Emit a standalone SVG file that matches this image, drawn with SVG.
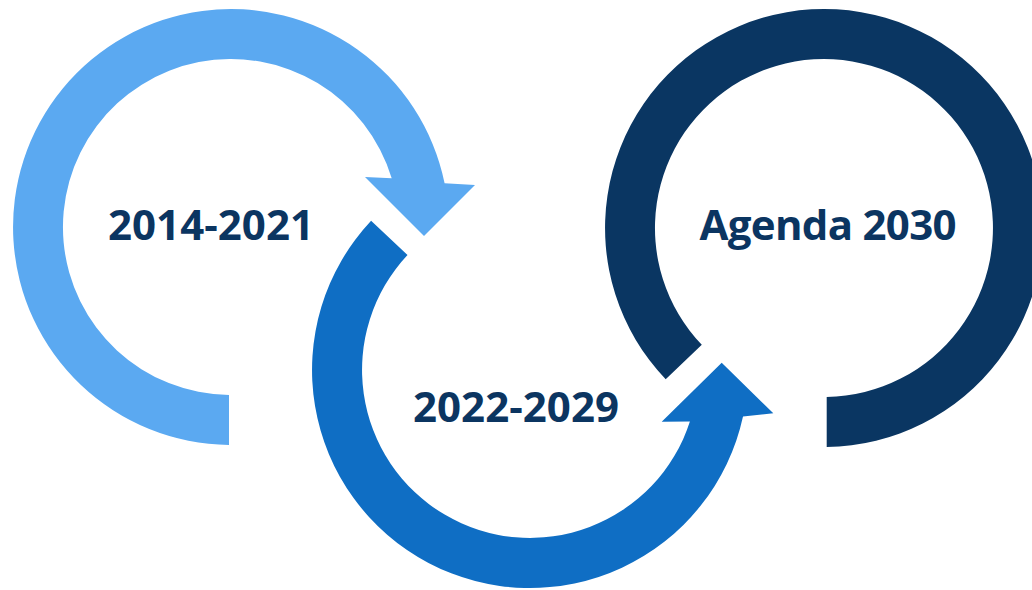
<svg xmlns="http://www.w3.org/2000/svg" width="1032" height="590" viewBox="0 0 1032 590">
  <style>
    .lbl { font-family: "Open Sans", "Liberation Sans", sans-serif; font-weight: 700; font-size: 42px; fill: #0B3561; text-anchor: middle; }
  </style>
  <rect width="1032" height="590" fill="#FFFFFF"/>
  <g id="connectors">
    <path id="arrow-1" fill="#5BA9F1" d="M229,445 A218,218 0 1 1 444.6,183.2 L475,185 L424,236 L365,177 L391.7,178.2 A168,168 0 1 0 229,395 Z"/>
    <path id="arrow-2" fill="#0F6EC4" d="M371.1,220.8 A218,218 0 1 0 743.0,416.6 L773.3,413.3 L721.7,362.7 L661.7,421.7 L689.9,421.6 A168,168 0 1 1 407.5,255.0 Z"/>
    <path id="arrow-3" fill="#0A3662" d="M826.7,447 A219,219 0 1 0 665.7,379.3 L701.8,344.8 A169,169 0 1 1 826.7,397 Z"/>
  </g>
  <g id="node-2014-2021">
    <text class="lbl" x="211" y="240" textLength="206">2014-2021</text>
  </g>
  <g id="node-2022-2029">
    <text class="lbl" x="516" y="421.5" textLength="206">2022-2029</text>
  </g>
  <g id="node-agenda-2030">
    <text class="lbl" x="828" y="239.5" textLength="257">Agenda 2030</text>
  </g>
</svg>
